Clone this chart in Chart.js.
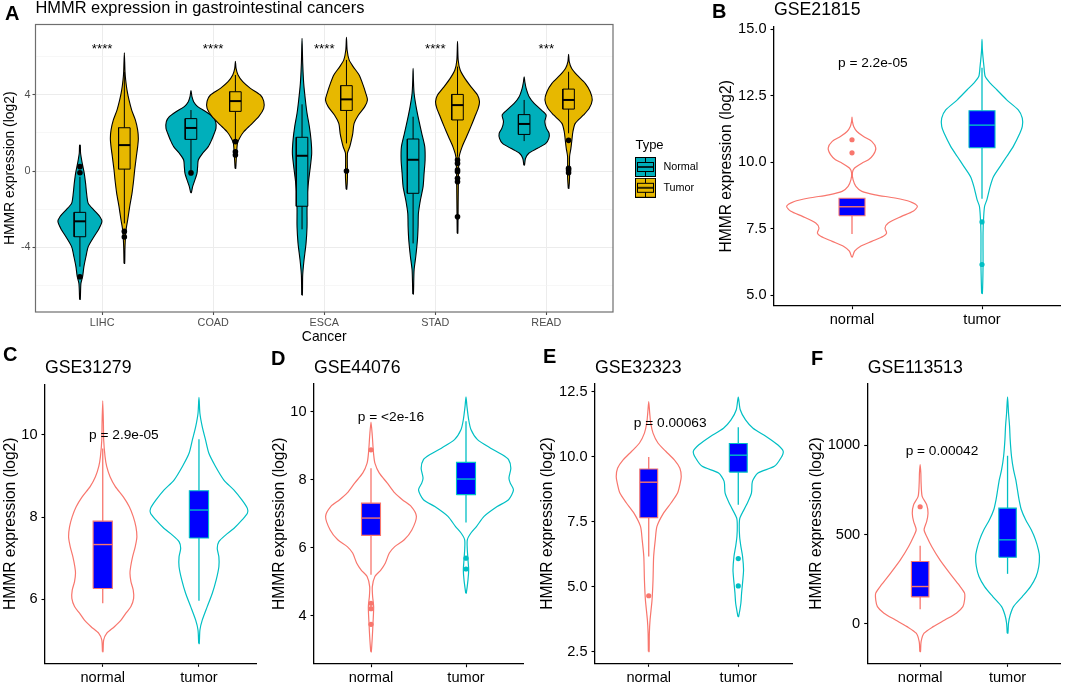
<!DOCTYPE html>
<html>
<head>
<meta charset="utf-8">
<style>
html,body{margin:0;padding:0;background:#fff;width:1065px;height:684px;overflow:hidden;position:relative}
canvas{position:absolute;display:block}
.tag{position:absolute;font:bold 20px "Liberation Sans",Arial,sans-serif;color:#000;line-height:22px}
</style>
<script src="https://cdn.jsdelivr.net/npm/chart.js@4/dist/chart.umd.min.js"></script>
</head>
<body>
<script>
// ---------- Panel A values (y = log2 expression, w = half violin width in category units)
const cancers = ['LIHC','COAD','ESCA','STAD','READ'];
const stars = ['****','****','****','****','***'];
const lihcNY=[-6.74,-5.9,-5.55,-5.02,-4.5,-3.97,-3.45,-3.1,-2.66,-2.4,-2.05,-1.7,-1.17,-.65,-.12,.4,.93,1.36];
const lihcNW=[.003,.009,.024,.036,.054,.075,.126,.165,.198,.18,.126,.075,.06,.051,.039,.021,.006,.003];
const lihcNB=[-5.02,-3.45,-2.64,-2.17,-.3];
const lihcNO=[-5.55,.23,-.09];
const lihcTY=[-4.85,-3.97,-3.1,-2.57,-1.87,-1.17,-.47,.05,.75,1.28,1.71,2.15,2.68,3.2,3.73,4.25,4.78,5.21,6.21];
const lihcTW=[.003,.006,.015,.03,.048,.069,.084,.093,.108,.12,.126,.12,.099,.066,.042,.024,.012,.006,0];
const lihcTB=[-2.75,.1,1.36,2.27,5.2];
const lihcTO=[-3.17,-3.46];
const coadNY=[-1.14,-.82,-.56,-.12,.23,.58,.93,1.28,1.63,1.98,2.24,2.59,2.85,3.11,3.38,3.64,3.9,4.22];
const coadNW=[.003,.015,.03,.054,.06,.066,.105,.156,.186,.21,.225,.222,.195,.135,.06,.024,.009,0];
const coadNB=[.05,1.66,2.26,2.75,3.2];
const coadNO=[-.1];
const coadTY=[.14,.75,1.45,1.71,2.06,2.41,2.85,3.29,3.67,3.99,4.34,4.69,5.04,5.39,5.76];
const coadTW=[.003,.009,.018,.036,.075,.135,.21,.255,.255,.225,.135,.066,.024,.006,0];
const coadTB=[1.66,3.13,3.67,4.16,5.04];
const coadTO=[1.54,1.01,.84];
const escaNY=[-6.51,-5.46,-4.67,-3.8,-2.92,-2.05,-1.17,-.47,.23,.93,1.63,2.33,3.03,3.73,4.6,5.65,6.96];
const escaNW=[.003,.006,.018,.036,.045,.045,.048,.06,.075,.087,.081,.066,.045,.03,.015,.006,0];
const escaNB=[-3.06,-1.85,.8,1.77,3.5];
const escaNO=[];
const escaTY=[-.96,-.3,.93,1.28,1.63,1.98,2.5,2.94,3.38,3.73,4.08,4.51,5.04,5.48,5.83,6.35,7.02];
const escaTW=[.003,.009,.009,.03,.045,.057,.069,.108,.165,.189,.174,.15,.114,.06,.024,.006,0];
const escaTB=[1.45,3.18,3.76,4.48,5.83];
const escaTO=[0];
const stadNY=[-6.46,-5.2,-4.5,-3.62,-2.92,-2.22,-1.52,-.82,-.12,.58,1.28,1.98,2.68,3.38,4.08,4.78,5.39];
const stadNW=[.003,.009,.024,.039,.045,.048,.066,.09,.099,.108,.105,.078,.051,.027,.009,.003,0];
const stadNB=[-3.8,-1.17,.59,1.68,2.85];
const stadNO=[];
const stadTY=[-3.27,-1.52,-.12,.75,1.28,1.8,2.33,2.85,3.29,3.64,3.99,4.43,4.86,5.3,5.83,6.81];
const stadTW=[.003,.006,.009,.015,.042,.081,.12,.156,.186,.198,.18,.12,.066,.024,.006,0];
const stadTB=[.75,2.68,3.46,4.02,5.48];
const stadTO=[.58,.4,.05,-.04,-.38,-.56,-2.4];
const readNY=[.31,.66,.93,1.19,1.45,1.71,1.98,2.24,2.59,2.94,3.2,3.55,3.9,4.34,4.69,4.95];
const readNW=[.003,.012,.042,.12,.195,.222,.225,.201,.186,.198,.156,.09,.045,.018,.006,0];
const readNB=[1.57,1.92,2.47,2.96,3.73];
const readNO=[];
const readTY=[-.91,-.3,.75,1.19,1.63,2.06,2.5,2.94,3.29,3.73,4.16,4.6,5.04,5.39,5.74,6.12];
const readTW=[.003,.009,.009,.021,.03,.039,.06,.135,.186,.213,.195,.15,.075,.027,.006,0];
const readTB=[1.98,3.25,3.73,4.3,5.21];
const readTO=[1.61,.14,.05,-.09];
// ---------- Panel B
const bNY=[6.43,6.65,6.83,7.02,7.21,7.33,7.52,7.71,7.96,8.15,8.34,8.52,8.65,8.77,8.9,9.09,9.34,9.59,9.77,9.96,10.09,10.28,10.53,10.78,10.96,11.15,11.34,11.53,11.69];
const bNW=[.003,.02,.063,.152,.241,.266,.254,.279,.381,.47,.503,.444,.33,.178,.076,.03,.008,.003,.018,.076,.127,.165,.183,.152,.089,.038,.013,.003,0];
const bNB=[7.3,7.98,8.32,8.64,8.64];
const bNO=[10.84,10.35];
const bTY=[5.06,6.08,7.33,7.96,8.34,8.59,9.09,9.46,9.84,10.21,10.59,11.09,11.34,11.65,11.96,12.34,12.72,12.97,13.22,13.59,14.22,14.62];
const bTW=[.003,.008,.008,.013,.02,.038,.063,.089,.14,.19,.241,.292,.31,.31,.279,.19,.114,.063,.025,.015,.003,0];
const bTB=[8.62,10.54,11.39,11.93,13.55];
const bTO=[7.75,6.15];
// ---------- Panel C
const cNY=[4.72,5.01,5.17,5.33,5.49,5.66,5.82,6.02,6.22,6.43,6.63,6.79,7.03,7.28,7.52,7.76,8.01,8.25,8.49,8.74,8.98,9.23,9.47,9.87,10.28,10.83];
const cNW=[.003,.01,.041,.121,.19,.241,.293,.321,.317,.293,.283,.29,.31,.338,.355,.345,.317,.276,.214,.131,.076,.041,.024,.01,.007,0];
const cNB=[5.9,6.26,7.33,7.9,9.67];
const cNO=[];
const cTY=[4.92,5.25,5.49,5.82,6.14,6.47,6.79,7.03,7.24,7.4,7.56,7.72,7.93,8.09,8.21,8.41,8.66,8.9,9.23,9.55,9.87,10.2,10.52,10.91];
const cTW=[.003,.01,.034,.086,.138,.179,.207,.207,.19,.207,.276,.362,.448,.503,.503,.448,.362,.259,.172,.103,.069,.034,.01,0];
const cTB=[5.96,7.49,8.17,8.64,9.89];
const cTO=[];
// ---------- Panel D
const dNY=[2.93,3.38,3.77,4.26,4.56,4.85,5.15,5.34,5.54,5.84,6.03,6.23,6.52,6.92,7.21,7.41,7.61,7.9,8.2,8.49,8.74,8.98,9.28,9.7];
const dNW=[.003,.014,.021,.028,.017,.014,.041,.103,.15,.193,.25,.35,.43,.478,.424,.33,.25,.172,.086,.041,.028,.021,.014,0];
const dNB=[5.2,6.36,6.87,7.31,8.34];
const dNO=[8.88,4.36,4.2,3.74];
const dTY=[4.66,5.05,5.34,5.64,5.93,6.23,6.43,6.62,6.92,7.21,7.41,7.7,7.9,8.05,8.34,8.59,8.74,8.93,9.18,9.48,9.77,10.16,10.44];
const dTW=[.003,.021,.028,.021,.014,.014,.052,.11,.19,.328,.448,.5,.466,.452,.472,.448,.379,.259,.121,.052,.028,.01,0];
const dTB=[6.74,7.56,8.02,8.51,9.72];
const dTO=[5.69,5.37];
// ---------- Panel E
const eNY=[2.5,3.21,3.72,4.49,5.26,6.16,6.8,7.32,7.83,8.22,8.6,8.99,9.24,9.56,9.88,10.21,10.53,10.91,11.3,11.68,12.12];
const eNW=[.004,.007,.015,.037,.048,.055,.073,.092,.165,.249,.322,.352,.363,.348,.286,.19,.103,.048,.022,.011,0];
const eNB=[6.16,7.65,9.02,9.53,9.99];
const eNO=[4.65];
const eTY=[3.85,4.36,4.75,5.26,5.65,6.16,6.55,6.93,7.32,7.64,8.15,8.6,9.05,9.37,9.63,9.95,10.21,10.46,10.78,11.1,11.42,11.81,12.3];
const eTW=[.004,.029,.037,.051,.059,.048,.029,.015,.011,.018,.092,.147,.158,.22,.403,.476,.502,.44,.311,.165,.081,.022,0];
const eTB=[8.15,9.41,10.06,10.51,11.14];
const eTO=[6.08,5.03];
// ---------- Panel F
const fNY=[-155,-99,-52,-15,22,60,97,134,172,218,284,358,433,489,526,573,619,666,713,787,843,890];
const fNW=[.004,.011,.045,.15,.282,.414,.489,.508,.508,.444,.338,.226,.132,.075,.045,.075,.09,.075,.023,.011,.008,0];
const fNB=[82,151,209,349,437];
const fNO=[655];
const fTY=[-52,4,50,97,153,209,265,321,377,414,470,526,582,638,694,750,806,862,937,1030,1104,1179,1269];
const fTW=[.004,.011,.03,.068,.169,.263,.327,.357,.365,.353,.32,.271,.207,.158,.132,.113,.094,.068,.045,.03,.023,.011,0];
const fTB=[280,373,470,647,940];
const fTO=[];
// ---------- Labels
const groups=['normal','tumor'];
const yTicksA=[-6,-4,-2,0,2,4,6];
const majorA=[-4,0,4];
const ticksB=[5,7.5,10,12.5,15], ticksC=[6,8,10], ticksD=[4,6,8,10], ticksE=[2.5,5,7.5,10,12.5], ticksF=[0,500,1000];
const legendNames=['Normal','Tumor'];

const FONT='"Liberation Sans",Arial,sans-serif';
const TEAL='#00AFBB', GOLD='#E7B800', RED='#F8766D', CYAN='#00BFC4', BLUE='#0000FF';

function violinPts(cx,ys,ws){
  const pts=ys.map((y,i)=>({x:cx-ws[i],y}));
  for(let i=ys.length-1;i>=0;i--){ if(ws[i]>0||i<ys.length-1) pts.push({x:cx+ws[i],y:ys[i]}); }
  pts.push({x:pts[0].x,y:pts[0].y});
  return pts;
}
function group(out,cx,half,ys,ws,box,outl,st){
  out.push({data:violinPts(cx,ys,ws),showLine:true,tension:.25,fill:st.vFill?'shape':false,backgroundColor:st.vFill||'transparent',borderColor:st.vLine,borderWidth:st.vW,pointRadius:0});
  const [lo,q1,med,q3,hi]=box;
  out.push({data:[{x:cx,y:lo},{x:cx,y:q1}],showLine:true,borderColor:st.line,borderWidth:st.wW,pointRadius:0});
  out.push({data:[{x:cx,y:q3},{x:cx,y:hi}],showLine:true,borderColor:st.line,borderWidth:st.wW,pointRadius:0});
  out.push({data:[{x:cx-half,y:q1},{x:cx+half,y:q1},{x:cx+half,y:q3},{x:cx-half,y:q3},{x:cx-half,y:q1}],showLine:true,fill:'shape',backgroundColor:st.bFill,borderColor:st.line,borderWidth:st.bW,pointRadius:0});
  out.push({data:[{x:cx-half,y:med},{x:cx+half,y:med}],showLine:true,borderColor:st.line,borderWidth:st.mW,pointRadius:0});
  if(outl.length) out.push({data:outl.map(y=>({x:cx,y})),showLine:false,pointRadius:st.r,pointBackgroundColor:st.line,pointBorderWidth:0});
}
const textNotes={id:'textNotes',afterDatasetsDraw(chart,a,o){
  const c=chart.ctx;c.save();c.fillStyle='#000';c.textAlign='center';c.textBaseline='middle';
  c.font=o.font||'13.7px '+FONT;
  (o.items||[]).forEach(n=>c.fillText(n.text,chart.scales.x.getPixelForValue(n.x),chart.scales.y.getPixelForValue(n.y)));
  c.restore();
  if(o.frame){const r=chart.chartArea;c.save();c.strokeStyle=o.frame;c.lineWidth=1.2;c.strokeRect(r.left,r.top,r.right-r.left,r.bottom-r.top);c.restore();}
},
 beforeLayout(chart,a,o){
   const l=chart.legend;
   if(o.legendBox&&l&&!l._fixedFit){const f=l.fit;l.fit=function(){f.call(this);this.width=o.legendBox.reserve;};l._fixedFit=true;}
 },
 afterLayout(chart,a,o){ if(o.legendBox&&chart.legend){const l=chart.legend,b=o.legendBox;l.left=b.left;l.width=b.width;l.right=b.clipRight;l.top=b.top;} }
};
Chart.register(textNotes);

function makePanel(g,datasets,xCfg,yCfg,extra){
  const lh=g.titleSize*1.2;
  const cTop=Math.floor(g.titleY-lh/2), cLeft=Math.floor(g.yTitleX-(g.yTitleSize*0.6));
  const cRight=Math.ceil(g.canvasRight||g.right)+1, cBottom=Math.ceil(g.bottom+g.xH)+1;
  const cv=document.createElement('canvas');
  const W=cRight-cLeft,H=cBottom-cTop;
  cv.width=W;cv.height=H;cv.style.cssText=`left:${cLeft}px;top:${cTop}px;width:${W}px;height:${H}px`;
  document.body.appendChild(cv);
  const t=g.titleY-lh/2-cTop, b=g.top-cTop-t-lh;
  datasets.forEach((d,i)=>{d.order=datasets.length-i;d.clip=false;});
  const sx={type:'linear',min:xCfg.min,max:xCfg.max,
    afterBuildTicks:s=>{s.ticks=xCfg.ticks.map(v=>({value:v}));},
    afterFit:s=>{s.height=g.xH;},
    ticks:{callback:(v,i)=>xCfg.labels[i],maxRotation:0,autoSkip:false,font:{family:FONT,size:g.xFont},color:g.tickColor,padding:g.xPad},
    grid:{display:true,drawOnChartArea:!!g.gridded,color:'#ececec',lineWidth:1,tickLength:g.tickLen,tickColor:g.markColor,tickWidth:1.1},
    border:{display:!g.gridded,color:'#000',width:1.3},
    title:{display:!!g.xTitle,text:g.xTitle,font:{family:FONT,size:g.yTitleSize},color:'#000',padding:{top:0,bottom:0}}};
  const sy={type:'linear',min:yCfg.min,max:yCfg.max,
    afterBuildTicks:s=>{s.ticks=yCfg.ticks.map(v=>({value:v}));},
    afterFit:s=>{s.width=g.left-cLeft;},
    ticks:{callback:yCfg.fmt,autoSkip:false,font:{family:FONT,size:g.yFont},color:g.tickColor,padding:g.yPad},
    grid:{display:true,drawOnChartArea:!!g.gridded,
      color:c=>c.tick&&yCfg.major&&!yCfg.major.includes(c.tick.value)?'#f3f3f3':'#ececec',
      lineWidth:c=>c.tick&&yCfg.major&&!yCfg.major.includes(c.tick.value)?.7:1,
      tickLength:g.tickLen,
      tickColor:c=>c.tick&&yCfg.major&&!yCfg.major.includes(c.tick.value)?'rgba(0,0,0,0)':g.markColor,tickWidth:1.1},
    border:{display:!g.gridded,color:'#000',width:1.3},
    title:{display:true,text:'HMMR expression (log2)',font:{family:FONT,size:g.yTitleSize},color:'#000',
      padding:{top:g.yTitleX-cLeft-g.yTitleSize*0.6,bottom:0}}};
  const plugins=Object.assign({
    tooltip:{enabled:false},legend:{display:false},
    title:{display:true,text:g.title,align:'start',fullSize:false,color:'#000',font:{family:FONT,size:g.titleSize,weight:'normal',lineHeight:1.2},padding:{top:t,bottom:b}},
    textNotes:{items:g.notes,frame:g.frame,font:g.noteFont}
  },extra||{});
  if(extra&&extra.textNotes) plugins.textNotes=Object.assign({items:g.notes,frame:g.frame,font:g.noteFont},extra.textNotes);
  return new Chart(cv,{type:'scatter',data:{datasets},options:{responsive:false,animation:false,events:[],
    layout:{padding:{left:0,right:cRight-(g.canvasRight||g.right),bottom:cBottom-g.bottom-g.xH,top:0}},
    elements:{line:{capBezierPoints:false}},
    scales:{x:sx,y:sy},plugins}});
}

// ---------- Panel A
const stN={vFill:TEAL,vLine:'#000',vW:1.1,line:'#000',bFill:TEAL,wW:1,bW:1,mW:2,r:2.8};
const stT={vFill:GOLD,vLine:'#000',vW:1.1,line:'#000',bFill:GOLD,wW:1,bW:1,mW:2,r:2.8};
const setsA=[];
[[lihcNY,lihcNW,lihcNB,lihcNO,lihcTY,lihcTW,lihcTB,lihcTO],
 [coadNY,coadNW,coadNB,coadNO,coadTY,coadTW,coadTB,coadTO],
 [escaNY,escaNW,escaNB,escaNO,escaTY,escaTW,escaTB,escaTO],
 [stadNY,stadNW,stadNB,stadNO,stadTY,stadTW,stadTB,stadTO],
 [readNY,readNW,readNB,readNO,readTY,readTW,readTB,readTO]].forEach((r,i)=>{
  group(setsA,i+1-.2,.052,r[0],r[1],r[2],r[3],stN);
  group(setsA,i+1+.2,.052,r[4],r[5],r[6],r[7],stT);
});
function keyImage(fill){
  const k=document.createElement('canvas');k.width=23;k.height=20;const c=k.getContext('2d');
  c.fillStyle=fill;c.fillRect(0,0,21,20);c.strokeStyle='#000';c.lineWidth=1;c.strokeRect(.5,.5,20,19);
  c.beginPath();c.moveTo(10.5,0);c.lineTo(10.5,5);c.moveTo(10.5,15);c.lineTo(10.5,20);c.stroke();
  c.strokeRect(2.5,5.5,16,9);c.lineWidth=1.6;c.beginPath();c.moveTo(2.5,10);c.lineTo(18.5,10);c.stroke();
  return k;
}
makePanel({left:35.5,top:24.5,right:613,bottom:312,canvasRight:700,xH:33.7,title:'HMMR expression in gastrointestinal cancers',titleSize:16.4,titleY:8,yTitleX:10,yTitleSize:13.9,
  xFont:10.8,yFont:10.8,tickColor:'#4d4d4d',markColor:'#4d4d4d',tickLen:3,xPad:2,yPad:2,gridded:true,frame:'#6e6e6e',xTitle:'Cancer',noteFont:'13.3px '+FONT,
  notes:cancers.map((c,i)=>({x:i+1,y:6.37,text:stars[i]}))},
  setsA,
  {min:.4,max:5.6,ticks:[1,2,3,4,5],labels:cancers},
  {min:-7.4,max:7.69,ticks:yTicksA,major:majorA,fmt:v=>majorA.includes(v)?String(v):''},
  {textNotes:{legendBox:{reserve:87,left:624,width:49,clipRight:700,top:140.5}},
   legend:{display:true,position:'right',align:'start',
    title:{display:true,text:'Type',position:'center',color:'#000',font:{family:FONT,size:13,lineHeight:1},padding:{top:0,bottom:.1}},
    labels:{usePointStyle:true,pointStyleWidth:23,padding:10,color:'#000',font:{family:FONT,size:10.8},
     generateLabels:()=>[
       {text:legendNames[0],pointStyle:keyImage(TEAL),fontColor:'#000',lineWidth:0,strokeStyle:'transparent',fillStyle:'transparent',hidden:false,datasetIndex:0},
       {text:legendNames[1],pointStyle:keyImage(GOLD),fontColor:'#000',lineWidth:0,strokeStyle:'transparent',fillStyle:'transparent',hidden:false,datasetIndex:1}]}}});

// ---------- Panels B–F
const stR={vLine:RED,vW:1.2,line:RED,bFill:BLUE,wW:1.3,bW:1.1,mW:1.4,r:2.6};
const stC={vLine:CYAN,vW:1.2,line:CYAN,bFill:BLUE,wW:1.3,bW:1.1,mW:1.4,r:2.6};
function simple(g,n,t,y,fmt){
  const sets=[];
  group(sets,1,.1,n[0],n[1],n[2],n[3],stR);
  group(sets,2,.1,t[0],t[1],t[2],t[3],stC);
  return makePanel(Object.assign({xH:21,titleSize:17.7,yTitleSize:15.6,xFont:14.6,yFont:14.6,tickColor:'#000',markColor:'#000',tickLen:3.5,xPad:2,yPad:4},g),
    sets,{min:.4,max:2.6,ticks:[1,2],labels:groups},{min:y[0],max:y[1],ticks:y[2],fmt});
}
const one=v=>v.toFixed(1), plain=v=>String(v);
simple({left:774,top:27,right:1062.7,bottom:305.7,title:'GSE21815',titleY:10,yTitleX:727,notes:[{x:1.16,y:13.72,text:'p = 2.2e-05'}]},
  [bNY,bNW,bNB,bNO],[bTY,bTW,bTB,bTO],[4.6,15.08,ticksB],one);
simple({left:45,top:384.3,right:256.7,bottom:663.3,title:'GSE31279',titleY:368,yTitleX:11,notes:[{x:1.22,y:9.98,text:'p = 2.9e-05'}]},
  [cNY,cNW,cNB,cNO],[cTY,cTW,cTB,cTO],[4.44,11.23,ticksC],plain);
simple({left:314,top:384,right:525.7,bottom:663.7,title:'GSE44076',titleY:368,yTitleX:279.3,notes:[{x:1.21,y:9.85,text:'p = <2e-16'}]},
  [dNY,dNW,dNB,dNO],[dTY,dTW,dTB,dTO],[2.58,10.82,ticksD],plain);
simple({left:595,top:384,right:795,bottom:663.3,title:'GSE32323',titleY:368,yTitleX:548,notes:[{x:1.24,y:11.3,text:'p = 0.00063'}]},
  [eNY,eNW,eNB,eNO],[eTY,eTW,eTB,eTO],[2.05,12.8,ticksE],one);
simple({left:867.7,top:384,right:1062.7,bottom:663.3,title:'GSE113513',titleY:368,yTitleX:816.7,notes:[{x:1.25,y:965,text:'p = 0.00042'}]},
  [fNY,fNW,fNB,fNO],[fTY,fTW,fTB,fTO],[-220,1341,ticksF],plain);

// ---------- Panel letters
[['A',5,2],['B',712,0],['C',3,343],['D',271,347],['E',543,345],['F',811,347]].forEach(([s,x,y])=>{
  const d=document.createElement('div');d.className='tag';d.textContent=s;d.style.left=x+'px';d.style.top=y+'px';document.body.appendChild(d);
});
</script>
</body>
</html>
